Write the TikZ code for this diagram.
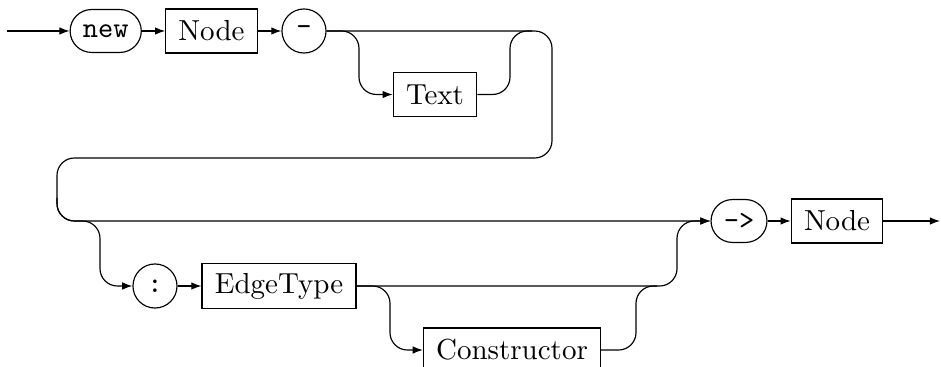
\documentclass[tikz,border=0pt]{standalone}
\usetikzlibrary{arrows.meta}

\begin{document}
\begin{tikzpicture}[x=0.345pt, y=-0.345pt, >={Latex[length=3.5pt,width=2.6pt]},
    nonterm/.style={draw, rectangle, minimum height=15.2pt, inner xsep=4.4pt},
    term/.style={draw, rectangle, rounded corners=7.4pt, minimum height=14.8pt, inner xsep=4.4pt, font=\ttfamily},
    sym/.style={draw, circle, minimum size=15.2pt, inner sep=0pt, font=\ttfamily},
    rail/.style={rounded corners=6pt}]
        \useasboundingbox (0,0) rectangle (941,367);
        % first line
        \coordinate (in) at (7,31);
        \node[term] (new) at (105.7,31) {new};
        \node[nonterm] (node1) at (211.5,31) {Node};
        \node[sym] (dash) at (304,31) {-};
        \node[nonterm] (text) at (435,94.5) {Text};
        \draw[->] (in) -- (new);
        \draw[->] (new) -- (node1);
        \draw[->] (node1) -- (dash);
        \draw[->, rail] (dash.east) -- (359,31) -- (359,94.5) -- (text.west);
        \coordinate (join1) at (532,31);
        \draw[rail] (text.east) -- (510,94.5) -- (510,31) -- (join1);
        % wrap to second line
        \node[term] (arrow) at (739,221) {->};
        \node[nonterm] (node2) at (837,221) {Node};
        \coordinate (out) at (940,221);
        \draw[->, rail] (dash.east) -- (552,31) -- (552,158) -- (57,158) -- (57,221) -- (arrow.west);
        % optional edge type
        \node[sym] (colon) at (155,286) {:};
        \node[nonterm] (etype) at (279,286) {EdgeType};
        \node[nonterm] (ctor) at (512,350) {Constructor};
        \coordinate (split2) at (57,198);
        \draw[->, rail] (split2) -- (57,221) -- (100,221) -- (100,286) -- (colon.west);
        \draw[->] (colon) -- (etype);
        \draw[->, rail] (etype.east) -- (390,286) -- (390,350) -- (ctor.west);
        \coordinate (join2) at (657,286);
        \draw[rail] (ctor.east) -- (636,350) -- (636,286) -- (join2);
        \draw[->, rail] (etype.east) -- (677,286) -- (677,221) -- (arrow.west);
        \draw[->] (arrow) -- (node2);
        \draw[->] (node2) -- (out);
\end{tikzpicture}
\end{document}
